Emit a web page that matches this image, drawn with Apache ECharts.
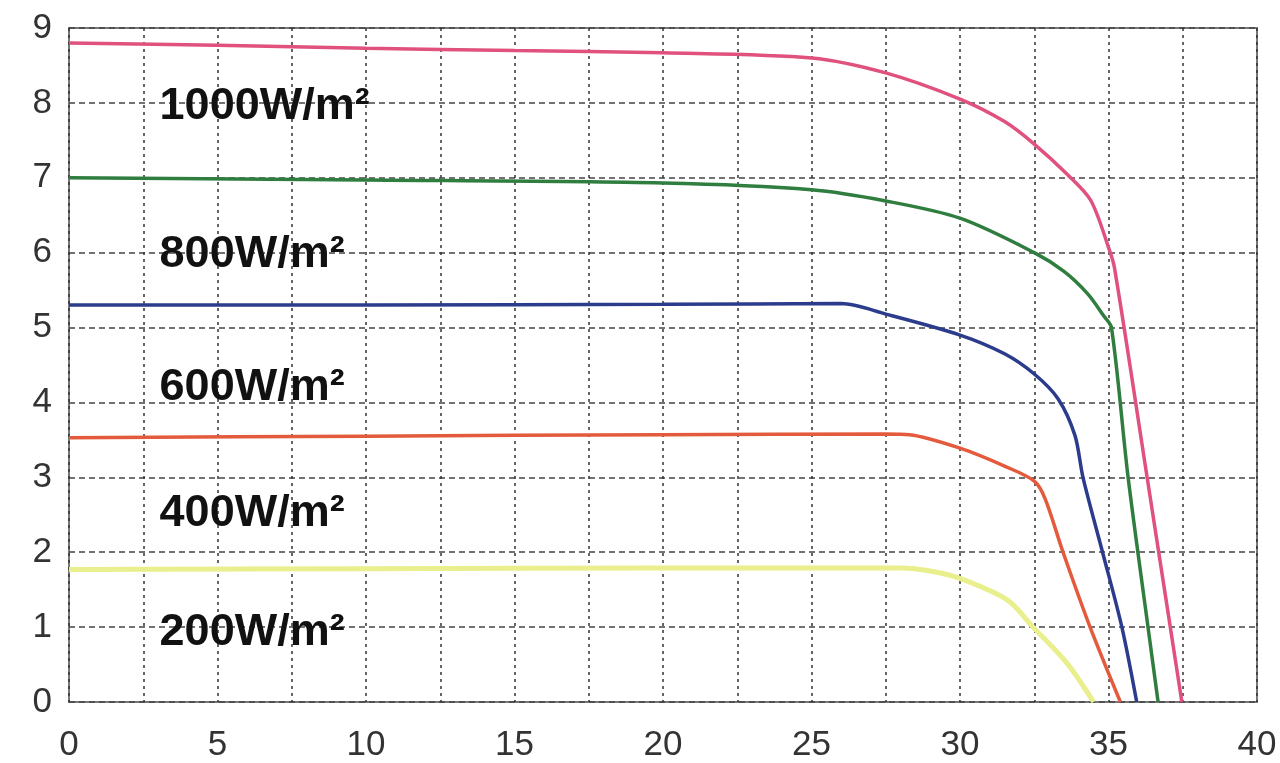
<!DOCTYPE html>
<html>
<head>
<meta charset="utf-8">
<script src="https://cdn.jsdelivr.net/npm/echarts@6/dist/echarts.min.js"></script>
<style>
html,body{margin:0;padding:0;background:#fff;}
#chart{width:1280px;height:763px;}
</style>
</head>
<body>
<div id="chart"></div>
<script>
// Irradiance curves (I-V), x = voltage, y = current
const pink1000_x = [0, 5, 10, 15, 20, 25, 27.5, 30, 31.5, 32.5, 33.6, 34.4, 35.0, 35.2, 36.3, 37.47];
const pink1000_y = [8.8, 8.77, 8.73, 8.7, 8.67, 8.6, 8.4, 8.05, 7.75, 7.45, 7.05, 6.7, 6.07, 5.8, 3.0, 0];

const green800_x = [0, 10, 20, 25, 27.5, 30, 32.5, 33.5, 34.3, 34.85, 35.1, 35.66, 36.33, 36.67];
const green800_y = [7.0, 6.97, 6.93, 6.84, 6.69, 6.46, 6.0, 5.75, 5.45, 5.15, 5.0, 3.0, 1.0, 0];

const blue600_x = [0, 10, 20, 26, 27.5, 30, 31.5, 32.5, 33.3, 33.87, 34.14, 34.8, 35.45, 35.95];
const blue600_y = [5.3, 5.3, 5.31, 5.32, 5.18, 4.9, 4.65, 4.38, 4.05, 3.56, 3.0, 2.0, 1.0, 0];

const orange400_x = [0, 10, 20, 27.5, 28.3, 30, 31.5, 32.5, 32.86, 33.47, 34.38, 35.4];
const orange400_y = [3.53, 3.55, 3.57, 3.58, 3.57, 3.39, 3.15, 2.95, 2.72, 2.0, 1.0, 0];

const yellow200_x = [0, 10, 20, 28, 29, 30, 31.6, 32.46, 33.6, 34.5];
const yellow200_y = [1.77, 1.78, 1.79, 1.79, 1.75, 1.65, 1.36, 1.0, 0.52, 0];

const labelText = ['1000W/m²', '800W/m²', '600W/m²', '400W/m²', '200W/m²'];
const labelX = [3.05, 3.05, 3.05, 3.05, 3.05];
const labelY = [7.95, 5.98, 4.2, 2.51, 0.93];

const xTicks = [0, 5, 10, 15, 20, 25, 30, 35, 40];
const yTicks = [0, 1, 2, 3, 4, 5, 6, 7, 8, 9];

function pairs(xs, ys){ return xs.map((x,i)=>[x, ys[i]]); }

const chart = echarts.init(document.getElementById('chart'));
const lineSeries = (name, xs, ys, color, width) => ({
  name, type:'line', data: pairs(xs, ys), showSymbol:false, smooth:0.3,
  lineStyle:{color, width}, itemStyle:{color}, z:3
});

chart.setOption({
  animation:false,
  backgroundColor:'#fff',
  grid:{left:69, right:23, top:28, bottom:61, show:true, borderColor:'#777', borderWidth:2},
  xAxis:{
    type:'value', min:0, max:40, interval:2.5,
    axisLine:{show:false}, axisTick:{show:false},
    axisLabel:{
      margin:26, fontFamily:'Liberation Sans', fontSize:35, color:'#333',
      formatter:v => xTicks.includes(v) ? String(v) : ''
    },
    splitLine:{show:true, lineStyle:{color:'#333', width:1.5, type:[3,4]}}
  },
  yAxis:{
    type:'value', min:0, max:9, interval:1,
    axisLine:{show:false}, axisTick:{show:false},
    axisLabel:{
      margin:17, fontFamily:'Liberation Sans', fontSize:35, color:'#333',
      formatter:v => yTicks.includes(v) ? String(v) : ''
    },
    splitLine:{show:true, lineStyle:{color:'#444', width:1.5, type:[6,4]}}
  },
  series:[
    lineSeries('1000', pink1000_x, pink1000_y, '#e0517d', 3.5),
    lineSeries('800', green800_x, green800_y, '#2f7d3f', 3.5),
    lineSeries('600', blue600_x, blue600_y, '#2c3c8c', 3.5),
    lineSeries('400', orange400_x, orange400_y, '#e45a3d', 3.5),
    lineSeries('200', yellow200_x, yellow200_y, '#e9ef8c', 5),
    {
      type:'scatter', symbolSize:0, z:5,
      itemStyle:{opacity:1},
      data: labelText.map((t,i)=>({name:t, value:[labelX[i], labelY[i]]})),
      label:{
        show:true, position:'right', distance:0, formatter:p=>p.name, opacity:1,
        fontFamily:'Liberation Sans', fontWeight:'bold', fontSize:45, color:'#111'
      }
    }
  ]
});
</script>
</body>
</html>
